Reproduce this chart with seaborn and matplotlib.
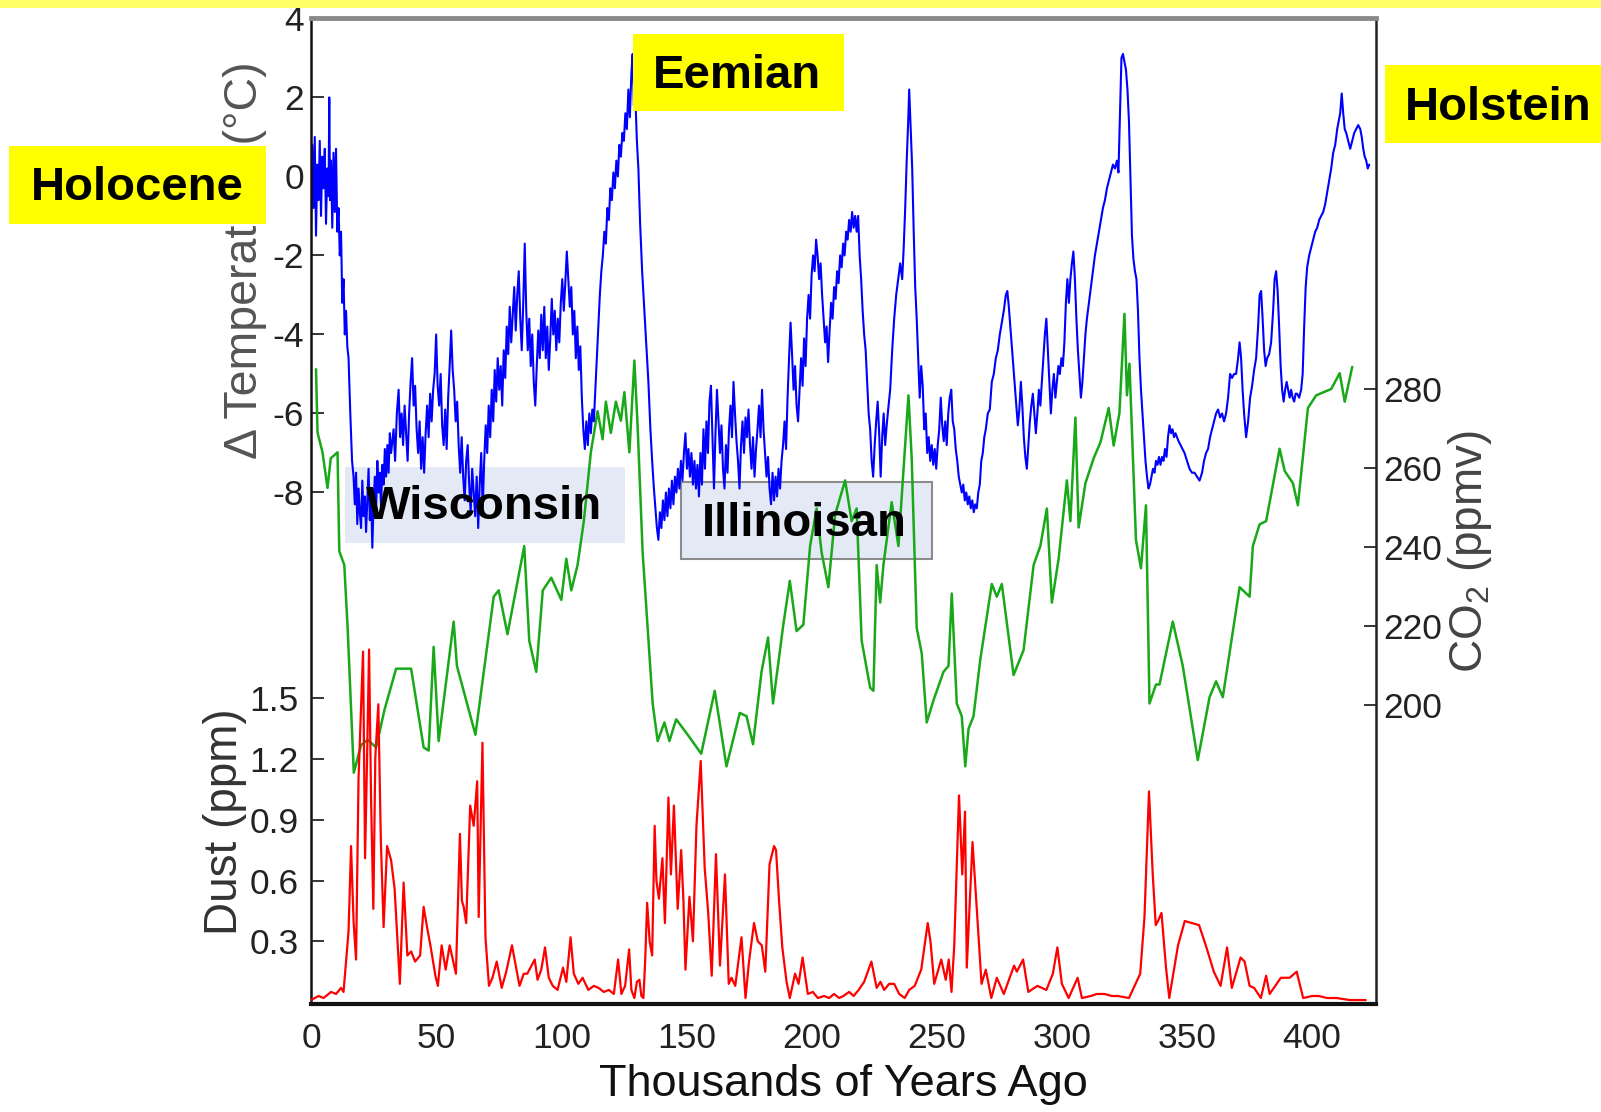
import matplotlib
matplotlib.use("Agg")
import matplotlib.pyplot as plt
from matplotlib.patches import Rectangle
import seaborn as sns

# temperature anomaly (deg C) vs thousands of years ago
temp_age = [0.0, 0.5, 1.0, 1.5, 2.0, 2.5, 3.0, 3.5, 4.0, 4.5, 5.0, 5.5, 6.0, 6.5, 7.0, 7.3, 7.6, 8.0, 8.5, 9.0,
            9.5, 10.0, 10.5, 11.0, 11.5, 12.0, 12.5, 13.0, 13.5, 14.0, 14.5, 15.0, 15.7, 16.4, 17.0, 17.5, 18.0,
            18.5, 19.0, 19.5, 20.0, 20.5, 21.0, 21.5, 22.0, 22.5, 23.0, 23.5, 24.0, 24.5, 25.0, 25.5, 26.0, 26.5,
            27.0, 27.5, 28.0, 28.5, 29.0, 29.5, 30.0, 30.5, 31.0, 31.5, 32.0, 33.0, 33.6, 34.3, 35.0, 35.6, 36.2,
            36.8, 37.4, 38.0, 38.6, 39.2, 39.8, 40.4, 41.0, 41.6, 42.2, 42.8, 43.4, 44.0, 44.6, 45.2, 45.8, 46.4,
            47.0, 47.6, 48.2, 48.8, 49.4, 50.0, 50.6, 51.2, 51.8, 52.4, 53.0, 53.6, 54.2, 54.8, 55.4, 56.0, 56.6,
            57.2, 57.8, 58.4, 59.0, 59.6, 60.2, 60.8, 61.4, 62.0, 62.6, 63.2, 63.8, 64.4, 65.0, 65.6, 66.2, 66.8,
            67.4, 68.0, 68.6, 69.2, 69.8, 70.4, 71.0, 71.6, 72.2, 72.8, 73.4, 74.0, 74.6, 75.2, 75.8, 76.4, 77.0,
            77.6, 78.2, 78.8, 79.4, 80.0, 80.6, 81.2, 81.8, 82.4, 83.0, 83.6, 84.2, 84.8, 85.4, 86.0, 86.6, 87.2,
            87.8, 88.4, 89.0, 89.6, 90.2, 90.8, 91.4, 92.0, 92.6, 93.2, 93.8, 94.4, 95.0, 95.6, 96.2, 96.8, 97.4,
            98.0, 98.6, 99.2, 99.8, 100.4, 101.0, 101.6, 102.2, 102.8, 103.4, 104.0, 104.6, 105.2, 105.8, 106.4,
            107.0, 107.6, 108.2, 108.8, 109.4, 110.0, 110.6, 111.2, 111.8, 112.4, 113.0, 113.6, 114.2, 114.8,
            115.4, 116.0, 116.6, 117.2, 117.8, 118.4, 119.0, 119.6, 120.2, 120.8, 121.4, 122.0, 122.6, 123.2,
            123.8, 124.4, 125.0, 125.6, 126.2, 126.8, 127.4, 128.0, 128.5, 129.0, 129.5, 130.2, 130.8, 131.5,
            132.3, 133.2, 134.0, 134.8, 135.6, 136.3, 137.0, 137.6, 138.2, 138.8, 139.4, 140.0, 140.6, 141.2,
            141.8, 142.4, 143.0, 143.6, 144.2, 144.8, 145.4, 146.0, 146.6, 147.2, 147.8, 148.4, 149.0, 149.6,
            150.2, 150.8, 151.4, 152.0, 152.6, 153.2, 153.8, 154.4, 155.0, 155.6, 156.2, 156.8, 157.4, 158.0,
            158.6, 159.2, 159.8, 160.4, 161.0, 161.6, 162.2, 162.8, 163.4, 164.0, 164.6, 165.2, 165.8, 166.4,
            167.0, 167.6, 168.2, 168.8, 169.4, 170.0, 170.6, 171.2, 171.8, 172.4, 173.0, 173.6, 174.2, 174.8,
            175.4, 176.0, 176.6, 177.2, 177.8, 178.4, 179.0, 179.6, 180.2, 180.8, 181.4, 182.0, 182.6, 183.2,
            183.8, 184.4, 185.0, 185.6, 186.2, 186.8, 187.4, 188.0, 188.6, 189.2, 189.8, 190.4, 191.0, 191.6,
            192.2, 192.8, 193.4, 194.0, 194.6, 195.2, 195.8, 196.4, 197.0, 197.6, 198.2, 198.8, 199.4, 200.0,
            200.6, 201.2, 201.8, 202.4, 203.0, 203.6, 204.2, 204.8, 205.4, 206.0, 206.6, 207.2, 207.8, 208.4,
            209.0, 209.6, 210.2, 210.8, 211.4, 212.0, 212.6, 213.2, 213.8, 214.4, 215.0, 215.6, 216.2, 216.8,
            217.4, 218.0, 218.6, 219.2, 219.8, 220.4, 221.0, 221.6, 222.2, 222.8, 223.4, 224.0, 224.6, 225.2,
            225.8, 226.4, 227.0, 227.6, 228.2, 228.8, 229.4, 230.0, 230.6, 231.4, 232.2, 233.0, 233.8, 234.6,
            235.4, 236.2, 236.8, 237.4, 238.0, 238.6, 239.0, 239.6, 240.2, 240.8, 241.4, 242.0, 242.6, 243.2,
            243.8, 244.4, 245.0, 245.6, 246.2, 246.8, 247.4, 248.0, 248.6, 249.2, 249.8, 250.4, 251.0, 251.6,
            252.2, 252.8, 253.4, 254.0, 254.6, 255.2, 255.8, 256.4, 257.0, 257.6, 258.2, 258.8, 259.4, 260.0,
            260.6, 261.2, 261.8, 262.4, 263.0, 263.6, 264.2, 264.8, 265.4, 266.0, 266.6, 267.2, 267.8, 268.4,
            269.0, 269.6, 270.4, 271.2, 272.0, 272.8, 273.6, 274.4, 275.2, 276.0, 276.8, 277.6, 278.2, 278.8,
            279.4, 280.0, 280.6, 281.2, 281.8, 282.4, 283.0, 283.6, 284.2, 284.8, 285.4, 286.0, 286.6, 287.2,
            287.8, 288.4, 289.0, 289.6, 290.2, 290.8, 291.4, 292.0, 292.6, 293.2, 293.8, 294.4, 295.0, 295.6,
            296.2, 296.8, 297.4, 298.0, 298.6, 299.2, 299.8, 300.4, 301.0, 301.6, 302.2, 302.8, 303.4, 304.0,
            304.6, 305.2, 305.8, 306.4, 307.0, 307.6, 308.2, 308.8, 309.4, 310.0, 310.8, 311.6, 312.4, 313.2,
            314.0, 314.8, 315.6, 316.4, 317.2, 318.0, 318.8, 319.6, 320.4, 321.2, 322.0, 322.6, 323.2, 323.8,
            324.4, 325.0, 325.6, 326.2, 326.8, 327.4, 328.0, 328.6, 329.2, 329.8, 330.4, 331.0, 331.6, 332.2,
            332.8, 333.4, 334.0, 334.6, 335.2, 335.8, 336.4, 337.0, 337.6, 338.2, 338.8, 339.4, 340.0, 340.6,
            341.2, 341.8, 342.4, 343.0, 343.6, 344.2, 344.8, 345.4, 346.0, 346.6, 347.4, 348.2, 349.0, 350.0,
            351.0, 352.0, 353.0, 354.0, 355.0, 356.0, 356.8, 357.6, 358.4, 359.2, 360.0, 360.8, 361.6, 362.4,
            363.2, 364.0, 364.8, 365.6, 366.4, 367.2, 368.0, 368.8, 369.6, 370.4, 371.0, 371.6, 372.2, 372.8,
            373.6, 374.4, 375.2, 376.0, 376.8, 377.6, 378.4, 379.0, 379.6, 380.2, 380.8, 381.4, 382.0, 382.8,
            383.6, 384.4, 385.0, 385.6, 386.2, 386.8, 387.4, 388.0, 388.6, 389.2, 389.8, 390.4, 391.0, 391.6,
            392.2, 392.8, 393.4, 394.0, 394.8, 395.6, 396.2, 396.8, 397.4, 398.0, 398.8, 399.6, 400.4, 401.2,
            402.0, 402.8, 403.6, 404.4, 405.2, 406.0, 406.8, 407.6, 408.4, 409.2, 410.0, 410.6, 411.2, 411.8,
            412.4, 413.0, 413.6, 414.4, 415.2, 416.0, 416.8, 417.6, 418.4, 419.2, 419.8, 420.4, 421.0, 421.6,
            422.2, 422.8]
temp_val = [-1.2, 0.8, -0.8, 1.0, -1.5, 0.3, -0.6, 0.9, -1.0, 0.5, -0.3, 0.7, -1.2, 0.2, -0.5, 2.0, -0.6, 0.4,
            -1.3, 0.6, -0.9, 0.7, -1.4, -0.8, -2.0, -1.4, -3.2, -2.6, -4.0, -3.4, -4.3, -4.6, -6.0, -7.2, -7.6,
            -8.3, -7.5, -8.8, -7.9, -8.5, -8.9, -7.7, -8.6, -8.1, -9.0, -8.2, -7.4, -8.7, -8.0, -9.4, -8.3, -7.6,
            -8.5, -7.2, -8.0, -7.5, -8.4, -7.3, -7.8, -6.9, -7.6, -6.8, -7.5, -6.5, -7.0, -6.4, -7.2, -6.0, -5.4,
            -6.6, -6.0, -6.8, -5.8, -6.5, -7.2, -6.0, -5.2, -4.6, -5.8, -5.3, -6.4, -7.0, -6.2, -7.4, -6.6, -7.5,
            -6.5, -5.8, -6.6, -5.5, -6.2, -5.4, -5.0, -4.0, -5.3, -5.8, -5.0, -6.3, -6.8, -5.9, -6.9, -5.6, -4.8,
            -3.9, -4.9, -5.4, -6.2, -5.7, -6.8, -7.5, -6.6, -7.6, -8.2, -7.2, -6.8, -7.8, -8.5, -7.4, -8.0, -8.6,
            -7.6, -8.9, -7.8, -7.0, -8.4, -7.2, -6.3, -7.0, -5.8, -6.6, -5.4, -6.2, -4.9, -5.7, -4.6, -5.4, -4.8,
            -5.8, -4.4, -5.1, -3.8, -4.5, -3.3, -4.2, -3.5, -2.8, -3.9, -3.0, -2.4, -3.6, -4.4, -3.2, -1.7, -3.4,
            -4.4, -3.6, -4.8, -4.0, -5.2, -5.8, -4.8, -3.9, -4.6, -3.5, -4.4, -3.3, -4.6, -3.8, -4.9, -4.1, -3.1,
            -4.0, -3.4, -4.4, -3.6, -4.2, -3.2, -2.6, -3.4, -2.7, -1.9, -2.6, -3.3, -2.8, -4.0, -3.4, -4.6, -3.8,
            -4.9, -4.3, -5.6, -6.4, -6.9, -6.2, -6.8, -6.0, -6.5, -5.9, -6.2, -5.4, -4.6, -3.8, -3.0, -2.4, -2.0,
            -1.4, -1.7, -0.8, -1.1, -0.3, -0.6, 0.1, -0.3, 0.4, 0.0, 0.8, 0.5, 1.1, 0.9, 1.6, 1.2, 2.2, 1.5, 2.6,
            3.1, 1.8, 2.2, 0.9, 0.2, -1.2, -2.4, -3.4, -4.3, -5.2, -6.4, -7.2, -7.9, -8.4, -8.9, -9.2, -8.5, -8.9,
            -8.2, -8.7, -8.0, -8.6, -7.9, -8.4, -7.7, -8.3, -7.6, -8.0, -7.4, -7.9, -7.2, -7.7, -7.0, -6.5, -7.4,
            -6.9, -7.6, -7.0, -7.8, -7.2, -7.9, -7.3, -8.1, -7.0, -7.8, -6.4, -7.4, -6.2, -7.0, -5.7, -5.3, -6.6,
            -7.9, -6.5, -5.4, -6.2, -7.0, -6.3, -7.4, -7.9, -6.8, -7.5, -6.4, -5.8, -6.6, -5.2, -6.0, -6.7, -7.2,
            -7.9, -6.8, -6.2, -7.0, -6.1, -6.6, -5.9, -6.8, -7.4, -6.6, -7.6, -6.9, -6.4, -5.8, -6.6, -5.4, -6.4,
            -7.0, -7.6, -7.1, -7.9, -8.3, -7.5, -8.2, -7.6, -8.1, -7.4, -7.9, -7.2, -6.8, -6.2, -6.9, -5.6, -4.6,
            -3.7, -4.5, -5.4, -4.8, -5.8, -6.2, -5.4, -4.6, -5.3, -4.1, -4.8, -3.6, -3.0, -3.6, -2.5, -2.0, -2.4,
            -1.6, -2.0, -2.6, -2.2, -3.0, -3.6, -4.2, -3.8, -4.7, -3.9, -3.2, -3.6, -2.8, -3.1, -2.4, -2.7, -2.0,
            -2.3, -1.7, -2.0, -1.4, -1.6, -1.1, -1.4, -0.9, -1.3, -1.0, -1.4, -1.0, -2.0, -2.6, -3.4, -4.0, -4.4,
            -5.2, -6.0, -6.4, -7.2, -7.6, -6.8, -6.2, -5.7, -6.5, -7.6, -6.6, -6.0, -6.8, -6.3, -5.9, -5.4, -4.4,
            -3.6, -3.0, -2.6, -2.2, -2.6, -1.8, -0.8, 0.4, 1.4, 2.2, 1.2, 0.2, -1.4, -2.8, -3.6, -4.6, -5.6, -4.8,
            -5.3, -6.4, -6.0, -7.0, -6.6, -7.2, -6.8, -7.3, -6.9, -7.4, -6.8, -6.4, -5.6, -6.3, -6.7, -6.2, -6.8,
            -6.0, -5.6, -5.4, -6.2, -6.4, -6.9, -7.2, -7.6, -7.8, -8.0, -7.8, -8.2, -8.0, -8.3, -8.1, -8.4, -8.2,
            -8.5, -8.3, -8.4, -8.0, -7.8, -7.2, -7.0, -6.6, -6.4, -6.0, -5.9, -5.2, -5.0, -4.6, -4.4, -4.0, -3.7,
            -3.4, -3.0, -2.9, -3.3, -3.8, -4.3, -4.8, -5.3, -5.8, -6.3, -5.9, -5.2, -5.8, -6.6, -7.1, -7.4, -6.8,
            -6.2, -5.8, -5.5, -6.0, -6.5, -6.0, -5.4, -5.8, -5.2, -4.6, -4.0, -3.6, -4.4, -5.2, -6.0, -5.4, -5.0,
            -5.6, -5.2, -4.8, -5.0, -4.6, -4.8, -4.2, -3.2, -2.6, -3.2, -2.6, -2.2, -1.9, -2.6, -3.6, -4.4, -5.0,
            -5.6, -5.2, -4.6, -4.0, -3.6, -3.2, -2.8, -2.4, -2.0, -1.7, -1.4, -1.1, -0.8, -0.6, -0.3, -0.1, 0.1,
            0.3, 0.2, 0.4, 0.1, 1.6, 3.0, 3.1, 2.9, 2.7, 2.2, 1.4, 0.0, -1.5, -2.1, -2.4, -2.6, -3.4, -4.6, -5.4,
            -6.0, -6.6, -7.2, -7.6, -7.9, -7.8, -7.6, -7.4, -7.5, -7.2, -7.3, -7.1, -7.3, -7.1, -7.2, -6.9, -7.1,
            -6.6, -6.3, -6.5, -6.4, -6.6, -6.5, -6.6, -6.7, -6.8, -6.9, -7.0, -7.2, -7.4, -7.5, -7.5, -7.6, -7.7,
            -7.5, -7.2, -7.0, -6.9, -6.6, -6.4, -6.2, -6.0, -5.9, -6.1, -6.0, -6.2, -6.0, -5.6, -5.0, -5.1, -5.0,
            -5.0, -4.6, -4.2, -4.6, -5.4, -6.0, -6.6, -6.2, -5.6, -5.3, -4.9, -4.6, -3.8, -3.0, -2.9, -3.6, -4.4,
            -4.8, -4.6, -4.5, -4.2, -3.4, -2.6, -2.4, -2.9, -3.8, -4.8, -5.4, -5.7, -5.4, -5.2, -5.4, -5.6, -5.4,
            -5.6, -5.7, -5.5, -5.5, -5.6, -5.4, -5.0, -3.8, -2.8, -2.3, -2.0, -1.8, -1.6, -1.4, -1.3, -1.1, -1.0,
            -0.9, -0.7, -0.4, -0.1, 0.2, 0.6, 0.8, 1.2, 1.4, 1.6, 2.1, 1.6, 1.2, 1.1, 0.9, 0.7, 0.9, 1.1, 1.2,
            1.3, 1.2, 1.0, 0.7, 0.5, 0.4, 0.2, 0.3]

# CO2 (ppmv)
co2_age = [2.0, 2.6, 4.6, 6.6, 7.9, 10.6, 11.3, 13.3, 14.6, 17.1, 20.0, 22.7, 26.0, 29.4, 34.0, 40.0, 45.0,
           47.0, 49.0, 51.0, 57.0, 58.3, 65.7, 73.0, 75.0, 78.5, 85.2, 87.2, 90.0, 92.6, 96.0, 100.0, 102.0,
           104.0, 106.5, 109.0, 111.8, 114.5, 116.5, 117.8, 119.8, 121.8, 123.8, 125.2, 127.2, 129.2, 130.5,
           132.5, 134.5, 136.5, 138.5, 141.2, 143.2, 145.9, 150.5, 155.9, 161.3, 166.0, 171.3, 174.0, 176.6,
           180.0, 182.6, 184.6, 188.7, 191.3, 194.0, 196.7, 199.4, 202.0, 204.0, 206.7, 209.4, 213.4, 216.0,
           218.0, 220.0, 223.4, 224.7, 226.0, 227.4, 228.7, 232.0, 234.7, 238.7, 240.0, 242.0, 244.0, 246.0,
           248.7, 252.7, 254.7, 256.0, 258.0, 260.0, 261.4, 262.7, 264.7, 267.4, 272.0, 274.0, 276.0, 280.7,
           284.7, 288.7, 291.4, 294.0, 296.0, 298.7, 302.0, 303.4, 305.4, 306.7, 309.4, 312.7, 315.4, 318.7,
           320.7, 323.0, 325.0, 326.0, 327.0, 329.6, 331.6, 333.6, 335.0, 337.6, 339.0, 344.3, 348.3, 354.3,
           359.0, 361.6, 364.3, 371.0, 375.0, 376.3, 379.0, 381.6, 387.0, 389.0, 392.3, 394.3, 398.3, 401.6,
           407.6, 411.0, 413.0, 416.0]
co2_val = [285.0, 269.0, 264.0, 255.0, 262.5, 264.0, 239.0, 235.5, 220.0, 183.0, 190.0, 191.3, 189.4, 199.0,
           209.3, 209.3, 189.4, 188.6, 214.8, 191.0, 221.2, 210.0, 192.6, 227.5, 229.1, 218.0, 240.3, 216.4,
           208.5, 229.1, 232.3, 226.7, 237.1, 229.1, 235.5, 246.6, 264.0, 274.4, 267.3, 276.8, 268.9, 276.8,
           272.0, 279.2, 264.0, 287.2, 270.5, 238.7, 219.6, 200.5, 191.0, 195.7, 191.0, 196.5, 192.6, 187.8,
           203.7, 184.6, 198.1, 197.3, 190.2, 208.5, 217.2, 200.5, 220.4, 231.5, 218.8, 220.4, 240.3, 249.8,
           238.7, 229.9, 248.2, 256.9, 246.6, 249.8, 216.4, 204.5, 203.7, 235.5, 226.0, 235.5, 251.4, 240.3,
           278.4, 262.5, 219.6, 213.2, 195.7, 201.3, 208.5, 210.0, 228.3, 200.5, 197.3, 184.6, 194.1, 197.3,
           211.6, 230.7, 227.5, 230.7, 207.7, 214.0, 235.5, 240.3, 249.8, 226.0, 237.1, 256.9, 246.6, 272.8,
           245.0, 256.2, 262.5, 266.5, 275.2, 265.7, 274.0, 299.0, 278.4, 286.4, 241.8, 234.7, 250.6, 200.5,
           205.3, 205.3, 221.2, 210.0, 186.2, 202.1, 206.1, 202.1, 229.9, 227.5, 240.3, 245.8, 246.6, 264.9,
           259.3, 256.2, 250.6, 275.2, 278.4, 280.0, 284.0, 276.8, 285.6]

# dust (ppm)
dust_age = [0.0, 3.0, 5.0, 8.0, 10.0, 12.0, 13.0, 14.0, 15.0, 16.0, 17.0, 18.0, 19.0, 20.8, 21.6, 22.4, 23.2,
            24.0, 24.9, 25.7, 26.9, 27.9, 29.0, 30.4, 32.0, 33.4, 35.5, 37.0, 38.5, 40.0, 41.6, 43.6, 45.0, 46.5,
            47.7, 49.7, 50.7, 52.2, 53.8, 55.4, 57.9, 59.5, 60.3, 61.0, 62.0, 63.6, 65.0, 66.4, 67.0, 68.5, 69.7,
            71.1, 72.5, 74.2, 76.2, 78.0, 80.3, 81.8, 83.3, 85.0, 86.4, 89.4, 90.5, 92.0, 93.5, 95.0, 96.6, 98.5,
            100.7, 102.0, 103.7, 105.0, 106.8, 108.5, 110.8, 113.0, 114.9, 117.0, 119.0, 121.0, 122.7, 124.0,
            125.5, 127.1, 128.0, 129.2, 130.2, 131.2, 132.0, 132.8, 133.5, 134.3, 135.3, 136.3, 137.3, 138.0,
            139.0, 140.4, 141.4, 142.8, 143.8, 145.0, 146.5, 147.9, 148.8, 149.6, 151.2, 152.6, 154.0, 155.7,
            157.3, 158.7, 160.1, 161.8, 163.4, 165.4, 166.9, 168.0, 169.5, 172.0, 173.6, 175.0, 177.0, 178.5,
            180.1, 181.5, 183.2, 185.0, 185.8, 187.0, 188.3, 190.0, 191.3, 193.4, 194.8, 196.4, 198.5, 200.5,
            202.5, 205.0, 207.0, 209.0, 211.0, 212.7, 215.0, 216.8, 218.8, 221.0, 223.9, 226.0, 227.5, 229.0,
            231.0, 233.0, 235.0, 237.2, 239.0, 241.2, 243.8, 246.4, 247.5, 249.0, 251.8, 253.6, 254.8, 255.9,
            257.0, 258.9, 260.2, 261.3, 262.0, 264.3, 266.0, 267.9, 269.6, 271.8, 274.0, 276.8, 280.9, 282.0,
            284.5, 286.6, 290.2, 293.8, 296.4, 298.2, 300.0, 302.7, 306.3, 308.0, 311.6, 314.0, 317.0, 320.0,
            322.3, 326.8, 331.3, 333.0, 334.8, 336.3, 337.5, 338.4, 339.8, 341.6, 342.9, 346.4, 349.1, 354.8,
            357.5, 360.7, 363.4, 366.0, 367.9, 371.4, 373.0, 375.0, 376.8, 379.5, 381.6, 383.0, 387.5, 391.0,
            393.8, 396.4, 400.0, 402.7, 406.0, 409.8, 415.0, 421.4]
dust_val = [0.01, 0.03, 0.02, 0.05, 0.04, 0.07, 0.05, 0.2, 0.35, 0.77, 0.4, 0.21, 1.11, 1.73, 0.71, 1.2, 1.74,
            1.0, 0.46, 1.21, 1.47, 0.8, 0.37, 0.77, 0.7, 0.56, 0.09, 0.59, 0.23, 0.25, 0.2, 0.23, 0.47, 0.36,
            0.28, 0.13, 0.08, 0.28, 0.16, 0.28, 0.14, 0.83, 0.5, 0.47, 0.39, 0.97, 0.87, 1.09, 0.42, 1.28, 0.32,
            0.08, 0.12, 0.2, 0.07, 0.15, 0.28, 0.18, 0.08, 0.14, 0.14, 0.21, 0.11, 0.16, 0.27, 0.12, 0.08, 0.06,
            0.17, 0.1, 0.32, 0.14, 0.09, 0.12, 0.06, 0.08, 0.07, 0.05, 0.06, 0.04, 0.21, 0.04, 0.08, 0.26, 0.06,
            0.02, 0.1, 0.11, 0.03, 0.02, 0.2, 0.49, 0.3, 0.23, 0.87, 0.6, 0.51, 0.71, 0.39, 1.01, 0.63, 0.97,
            0.46, 0.75, 0.5, 0.16, 0.52, 0.3, 0.87, 1.19, 0.66, 0.44, 0.13, 0.73, 0.18, 0.63, 0.09, 0.12, 0.08,
            0.32, 0.02, 0.2, 0.39, 0.3, 0.28, 0.15, 0.68, 0.77, 0.75, 0.5, 0.27, 0.1, 0.02, 0.14, 0.09, 0.22,
            0.04, 0.05, 0.02, 0.03, 0.02, 0.04, 0.02, 0.03, 0.05, 0.03, 0.06, 0.1, 0.2, 0.07, 0.1, 0.06, 0.09,
            0.09, 0.04, 0.02, 0.06, 0.08, 0.16, 0.39, 0.3, 0.09, 0.21, 0.11, 0.21, 0.05, 0.28, 1.02, 0.63, 0.94,
            0.17, 0.79, 0.46, 0.09, 0.16, 0.02, 0.12, 0.04, 0.18, 0.15, 0.21, 0.05, 0.08, 0.06, 0.14, 0.27, 0.09,
            0.02, 0.12, 0.02, 0.03, 0.04, 0.04, 0.03, 0.03, 0.02, 0.14, 0.42, 1.04, 0.63, 0.38, 0.4, 0.44, 0.17,
            0.02, 0.28, 0.4, 0.38, 0.28, 0.15, 0.08, 0.27, 0.07, 0.22, 0.2, 0.08, 0.07, 0.02, 0.13, 0.04, 0.12,
            0.12, 0.15, 0.02, 0.03, 0.03, 0.02, 0.02, 0.01, 0.01]

x_ticks = [0, 50, 100, 150, 200, 250, 300, 350, 400]
temp_ticks = [4, 2, 0, -2, -4, -6, -8]
co2_ticks = [200, 220, 240, 260, 280]
dust_ticks = [0.3, 0.6, 0.9, 1.2, 1.5]

sns.set_style("white")
plt.rcParams['font.family'] = ['Liberation Sans', 'DejaVu Sans']
plt.rcParams['mathtext.fontset'] = 'custom'
plt.rcParams['mathtext.rm'] = 'Liberation Sans'
plt.rcParams['axes.unicode_minus'] = False

W, H = 1601, 1112
fig = plt.figure(figsize=(W / 100, H / 100), dpi=100)
fig.patch.set_facecolor('white')
ax = fig.add_axes([311 / W, 1 - 1003.7 / H, (1376 - 311) / W, (1003.7 - 18.4) / H])
ax_co2 = ax.twinx()
ax_dust = ax.twinx()

sns.lineplot(x=temp_age, y=temp_val, ax=ax, color='#0000ff', linewidth=1.5, estimator=None)
sns.lineplot(x=co2_age, y=co2_val, ax=ax_co2, color='#18a818', linewidth=1.8, estimator=None)
sns.lineplot(x=dust_age, y=dust_val, ax=ax_dust, color='#ff0000', linewidth=1.6, estimator=None)

ax.set_xlim(0, 425.5)
ax.set_ylim(-20.94, 4)
ax_co2.set_ylim(124.6, 373.7)
ax_dust.set_ylim(-0.008, 4.855)

tick_font = dict(labelsize=25.5, labelcolor='#222222', direction='in', length=9, width=1.3)
ax.set_xticks(x_ticks, labels=[str(v) for v in x_ticks])
ax.set_yticks(temp_ticks, labels=[str(v) for v in temp_ticks])
ax.tick_params(axis='x', pad=13, **tick_font)
ax.tick_params(axis='y', pad=5, **tick_font)

ax_co2.set_yticks(co2_ticks, labels=[str(v) for v in co2_ticks])
ax_co2.tick_params(axis='y', pad=5, **tick_font)

ax_dust.yaxis.tick_left()
ax_dust.yaxis.set_label_position('left')
ax_dust.set_yticks(dust_ticks, labels=[f"{v:.1f}" for v in dust_ticks])
ax_dust.tick_params(axis='y', pad=9, **tick_font)

for a in (ax_co2, ax_dust):
    for s in a.spines.values():
        s.set_visible(False)
ax.spines['top'].set_color('#8a8a8a')
ax.spines['top'].set_linewidth(3.5)
ax.spines['bottom'].set_color('#111111')
ax.spines['bottom'].set_linewidth(3)
ax.spines['left'].set_color('#111111')
ax.spines['left'].set_linewidth(1.8)
ax.spines['right'].set_color('#222222')
ax.spines['right'].set_linewidth(1.8)

ax.set_xlabel("Thousands of Years Ago", fontsize=32.5, color='#111111', labelpad=7)
ax.set_ylabel("Δ Temperature (°C)", fontsize=33.5, color='#555555')
ax.yaxis.set_label_coords(-0.062, 0.755)
ax.yaxis.label.set_va('center')
ax_dust.set_ylabel("Dust (ppm)", fontsize=33, color='#333333')
ax_dust.yaxis.set_label_coords(-0.081, 0.185)
ax_dust.yaxis.label.set_va('center')
ax_co2.set_ylabel("CO$_2$ (ppmv)", fontsize=33, color='#444444', rotation=90)
ax_co2.yaxis.set_label_coords(1.088, 0.459)
ax_co2.yaxis.label.set_va('center')


def px_rect(x0, y0, x1, y1):
    return (x0 / W, 1 - y1 / H), (x1 - x0) / W, (y1 - y0) / H


# glacial period boxes sit under the curves
for x0, y0, x1, y1, edge in [(345, 466.6, 625, 543, 'none'), (681, 482, 932, 558.5, '#8c8c8c')]:
    xy, w, h = px_rect(x0, y0, x1, y1)
    ax.add_patch(Rectangle(xy, w, h, transform=fig.transFigure, facecolor='#e4eaf5',
                           edgecolor=edge, linewidth=1.5, zorder=1, clip_on=False))

# interglacial labels on top
for x0, y0, x1, y1 in [(9, 146, 265.5, 223.6), (633, 33.7, 844, 111.3), (1384.5, 65.3, 1610, 143)]:
    xy, w, h = px_rect(x0, y0, x1, y1)
    fig.add_artist(Rectangle(xy, w, h, transform=fig.transFigure, facecolor='#ffff00',
                             edgecolor='none', zorder=5))

xy, w, h = px_rect(0, 0, W, 8)
fig.add_artist(Rectangle(xy, w, h, transform=fig.transFigure, facecolor='#ffff66',
                         edgecolor='none', zorder=5))

box_font = dict(fontsize=34, fontweight='bold', color='black', ha='center', va='center', zorder=6)
for label, cx, cy in [("Holocene", 137, 188), ("Eemian", 737, 76.5), ("Holstein", 1498, 108),
                      ("Wisconsin", 484, 507), ("Illinoisan", 804.5, 524)]:
    fig.text(cx / W, 1 - cy / H, label, **box_font)

fig.savefig("out.png", dpi=100)
